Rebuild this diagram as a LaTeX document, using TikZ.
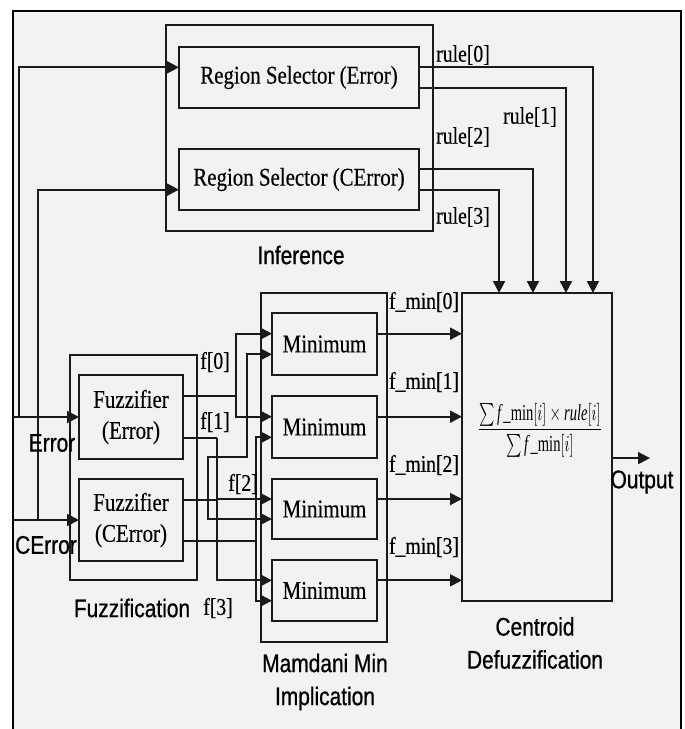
\documentclass[tikz,border=0pt]{standalone}
\usepackage{fontspec}
\setmainfont{Liberation Serif}
\newfontfamily\srf[FakeStretch=0.82,FakeBold=0.3]{Liberation Serif}
\newfontfamily\sfn[FakeStretch=0.82,FakeBold=0.7]{Liberation Sans}
\usetikzlibrary{arrows.meta,calc}
\definecolor{bg}{HTML}{F2F2F2}
\definecolor{ink}{HTML}{1A1A1A}
\begin{document}
\begin{tikzpicture}[x=1pt,y=-1pt,
  blk/.style={draw=ink, line width=2pt, fill=bg, inner sep=0pt, outer sep=0pt,
    align=center, font=\srf\fontsize{25.5}{31}\selectfont},
  lbl/.style={inner sep=0pt, font=\srf\fontsize{24}{30}\selectfont},
  captxt/.style={inner sep=0pt, align=center, font=\sfn\fontsize{25.5}{33}\selectfont},
  wire/.style={draw=ink, line width=2pt},
  arr/.style={wire, -{Triangle[length=12pt,width=12pt]}}]
\useasboundingbox (0,0) rectangle (685,729);
\fill[white] (0,0) rectangle (685,729);
\fill[bg] (13,11) rectangle (681,729);
\draw[line width=2.5pt, black] (13,729) -- (13,11) -- (681,11) -- (681,729);

% outer groups
\node[blk, minimum width=267pt, minimum height=206pt] (inf) at (299.5,128) {};
\node[blk, minimum width=127pt, minimum height=225pt] (fzb) at (133.5,467.5) {};
\node[blk, minimum width=126pt, minimum height=349pt] (mam) at (324,467.5) {};
\node[blk, minimum width=150pt, minimum height=308pt] (cen) at (537,447) {};

% inner blocks
\node[blk, minimum width=240pt, minimum height=61pt] (rse) at (299,77.5) {Region Selector (Error)};
\node[blk, minimum width=240pt, minimum height=61pt] (rsc) at (299,179.5) {Region Selector (CError)};
\node[blk, minimum width=104pt, minimum height=84pt] (fze) at (131,417) {Fuzzifier\\(Error)};
\node[blk, minimum width=104pt, minimum height=82pt] (fzc) at (131,520) {Fuzzifier\\(CError)};
\node[blk, minimum width=105pt, minimum height=62pt] (m1) at (324.5,344) {Minimum};
\node[blk, minimum width=105pt, minimum height=62pt] (m2) at (324.5,427) {Minimum};
\node[blk, minimum width=105pt, minimum height=60pt] (m3) at (324.5,509) {Minimum};
\node[blk, minimum width=105pt, minimum height=61pt] (m4) at (324.5,590.5) {Minimum};

\node[inner sep=0pt] (frm) at (540,430) {\resizebox*{125pt}{54pt}{$\displaystyle\frac{\sum \mathit{f}\,\_\mathrm{min}[i]\times \mathit{rule}[i]}{\sum \mathit{f}\,\_\mathrm{min}[i]}$}};

% ports
\coordinate (rse-in) at ($(rse.north west)!1/3!(rse.south west)$);
\coordinate (rse-o0) at ($(rse.north east)!1/3!(rse.south east)$);
\coordinate (rse-o1) at ($(rse.north east)!2/3!(rse.south east)$);
\coordinate (rsc-in) at ($(rsc.north west)!2/3!(rsc.south west)$);
\coordinate (rsc-o2) at ($(rsc.north east)!1/3!(rsc.south east)$);
\coordinate (rsc-o3) at ($(rsc.north east)!2/3!(rsc.south east)$);
\coordinate (fze-o0) at ($(fze.north east)!0.25!(fze.south east)$);
\coordinate (fze-o1) at ($(fze.north east)!0.75!(fze.south east)$);
\coordinate (fzc-o0) at ($(fzc.north east)!0.25!(fzc.south east)$);
\coordinate (fzc-o1) at ($(fzc.north east)!0.75!(fzc.south east)$);
\foreach \m in {m1,m2,m3,m4}{
  \coordinate (\m-i1) at ($(\m.north west)!1/3!(\m.south west)$);
  \coordinate (\m-i2) at ($(\m.north west)!2/3!(\m.south west)$);
  \coordinate (\m-o) at ($(\m.north east)!1/3!(\m.south east)$);
}
\coordinate (cen-t0) at ($(cen.north west)!0.873!(cen.north east)$);
\coordinate (cen-t1) at ($(cen.north west)!0.693!(cen.north east)$);
\coordinate (cen-t2) at ($(cen.north west)!0.473!(cen.north east)$);
\coordinate (cen-t3) at ($(cen.north west)!0.247!(cen.north east)$);
\coordinate (cen-out) at ($(cen.north east)!0.536!(cen.south east)$);

% inputs
\coordinate (errin) at (13,417);
\coordinate (ej) at (19,417);
\coordinate (cerrin) at (13,520);
\coordinate (cj) at (38,520);
\draw[arr] (errin) -- (fze.west);
\draw[arr] (ej) |- (rse-in);
\draw[arr] (cerrin) -- (fzc.west);
\draw[arr] (cj) |- (rsc-in);

% rules
\draw[arr] (rse-o0) -| (cen-t0);
\draw[arr] (rse-o1) -| (cen-t1);
\draw[arr] (rsc-o2) -| (cen-t2);
\draw[arr] (rsc-o3) -| (cen-t3);

% fuzzifier outputs
\coordinate (j0) at (fze-o0 -| 236,0);
\coordinate (j1) at (fze-o1 -| 217,0);
\coordinate (j2) at (fzc-o0 -| 208,0);
\coordinate (j3) at (fzc-o1 -| 256,0);
\draw[wire] (fze-o0) -- (j0);
\draw[arr] (j0) |- (m1-i1);
\draw[arr] (j0) |- (m2-i1);
\draw[wire] (fze-o1) -- (j1);
\draw[arr] (j1) |- (m4-i1);
\draw[arr] (j1 |- m3-i1) -- (m3-i1);
\draw[wire] (fzc-o0) -- (j1 |- fzc-o0);
\draw[arr] (j2) |- (m3-i2);
\draw[arr] (j2) -- (j2 |- 0,457) -- (247,457) |- (m1-i2);
\draw[wire] (fzc-o1) -- (j3);
\draw[arr] (j3) |- (m2-i2);
\draw[arr] (j3) |- (m4-i2);

% minimum outputs
\foreach \m in {m1,m2,m3,m4}{
  \draw[arr] (\m-o) -- (\m-o -| cen.west);
}
\draw[arr] (cen-out) -- ++(38,0);

% labels
\node[lbl] at (463,55) {rule[0]};
\node[lbl] at (530,117) {rule[1]};
\node[lbl] at (463,137) {rule[2]};
\node[lbl] at (463,217) {rule[3]};
\node[lbl] at (215,362) {f[0]};
\node[lbl] at (215,422) {f[1]};
\node[lbl] at (243,484) {f[2]};
\node[lbl] at (218,608) {f[3]};
\node[lbl] at (424,302) {f\_min[0]};
\node[lbl] at (424,382) {f\_min[1]};
\node[lbl] at (424,465) {f\_min[2]};
\node[lbl] at (424,547) {f\_min[3]};
\node[captxt] at (301,255) {Inference};
\node[captxt] at (132,608) {Fuzzification};
\node[captxt] at (325,682) {Mamdani Min\\Implication};
\node[captxt] at (535,643) {Centroid\\Defuzzification};
\node[captxt] at (642,482) {Output};
\node[captxt] at (52,443) {Error};
\node[captxt] at (46,545) {CError};
\end{tikzpicture}
\end{document}
